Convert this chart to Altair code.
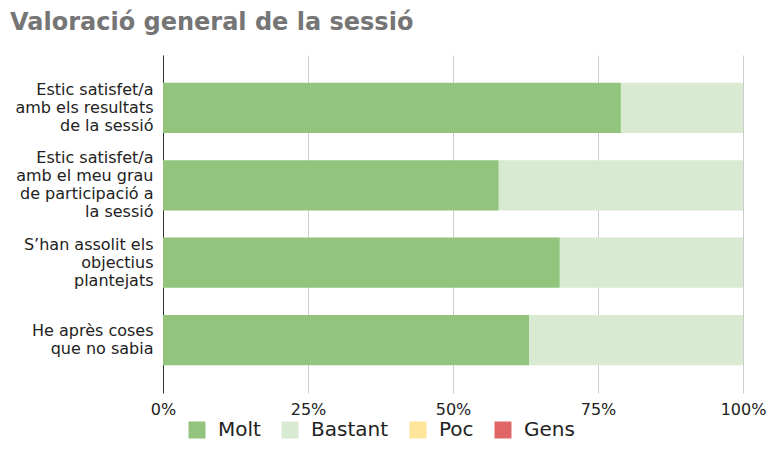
import altair as alt
import pandas as pd

categories = [
    "Estic satisfet/a|amb els resultats|de la sessió",
    "Estic satisfet/a|amb el meu grau|de participació a|la sessió",
    "S’han assolit els|objectius|plantejats",
    "He après coses|que no sabia",
]
levels = ["Molt", "Bastant", "Poc", "Gens"]
colors = ["#93c47d", "#d9ead3", "#ffe599", "#e06666"]
molt = [15, 11, 13, 12]
bastant = [4, 8, 6, 7]
poc = [0, 0, 0, 0]
gens = [0, 0, 0, 0]

rows = []
for i, c in enumerate(categories):
    for j, (lev, vals) in enumerate(zip(levels, [molt, bastant, poc, gens])):
        rows.append({"pregunta": c, "nivell": lev, "n": vals[i], "ord": j})
df = pd.DataFrame(rows)

FONT = "DejaVu Sans"
LH = 18

chart = alt.Chart(df).mark_bar().encode(
    y=alt.Y("pregunta:N", sort=categories, title=None,
            scale=alt.Scale(paddingInner=0.35, paddingOuter=0.36),
            axis=alt.Axis(labelExpr="split(datum.label, '|')", labelFont=FONT,
                          labelFontSize=16, labelLineHeight=LH, labelColor="#222222",
                          labelOffset={"expr": f"-(length(split(datum.label, '|')) - 1) * {LH / 2}"},
                          ticks=False, labelPadding=10, domainColor="#333333",
                          domainWidth=1, grid=False, labelLimit=300)),
    x=alt.X("sum(n):Q", stack="normalize", title=None,
            scale=alt.Scale(domain=[0, 1], nice=False),
            axis=alt.Axis(values=[0, 0.25, 0.5, 0.75, 1], format="%", labelFont=FONT,
                          labelFontSize=16, labelColor="#222222", ticks=False, tickSize=0,
                          labelPadding=8, labelFlush=False, domain=False, grid=True,
                          gridColor="#cccccc", gridWidth=1)),
    color=alt.Color("nivell:N", title=None,
                    scale=alt.Scale(domain=levels, range=colors),
                    legend=alt.Legend(orient="none", legendX=24, legendY=365,
                                      direction="horizontal", symbolType="square",
                                      symbolSize=289, symbolStrokeWidth=0,
                                      labelFont=FONT, labelFontSize=20,
                                      labelColor="#222222", labelOffset=11,
                                      columnPadding=19, padding=0)),
    order=alt.Order("ord:Q"),
).properties(
    width=580,
    height=338,
    title=alt.TitleParams("Valoració general de la sessió", anchor="start",
                          frame="group", dx=-153, font=FONT, fontSize=24,
                          fontWeight="bold", color="#757575", offset=1,
                          baseline="alphabetic"),
    autosize=alt.AutoSizeParams(type="none"),
    padding={"left": 155, "top": 47, "right": 24, "bottom": 51},
).configure_view(stroke=None)

chart.save("out.html", embed_options={"renderer": "svg", "actions": False})
